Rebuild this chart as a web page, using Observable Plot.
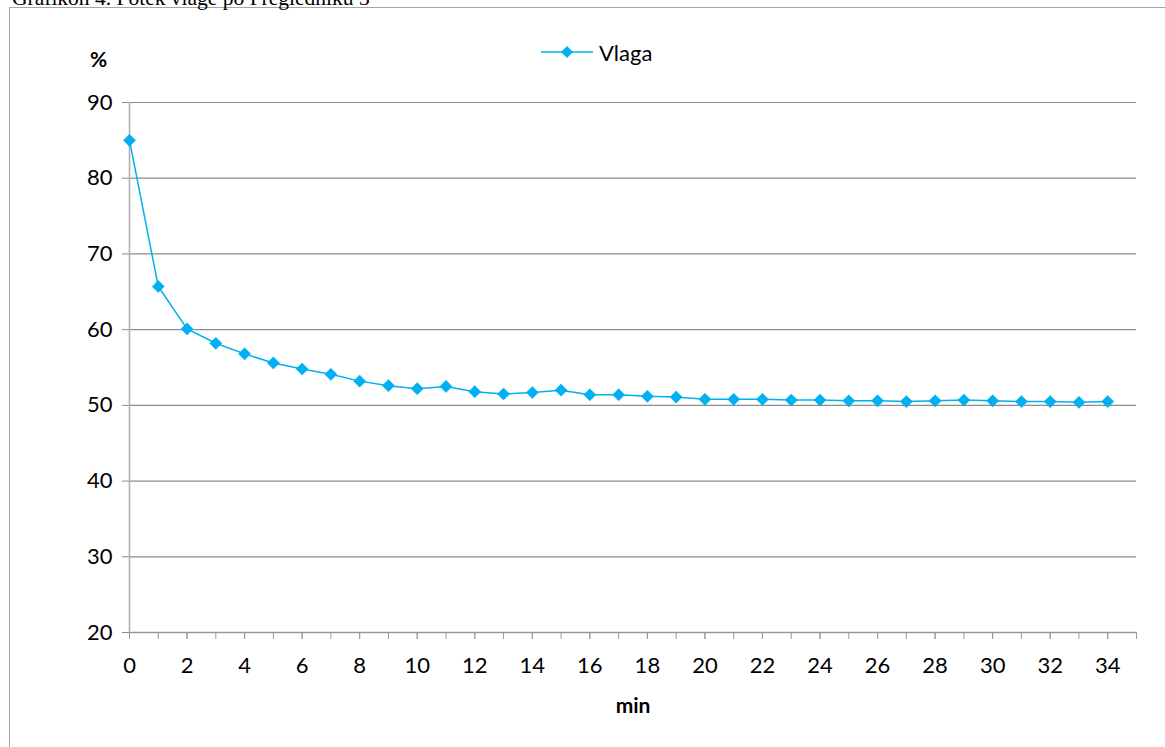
<!DOCTYPE html>
<html>
<head>
<meta charset="utf-8">
<script src="https://cdn.jsdelivr.net/npm/d3@7"></script>
<script src="https://cdn.jsdelivr.net/npm/@observablehq/plot@0.6"></script>
<style>
  html, body { margin: 0; padding: 0; background: #fff; overflow: hidden; }
  #wrap { position: relative; width: 1165px; height: 747px; overflow: hidden; background: #fff; }
  #title { position: absolute; left: 12px; top: -12px; font-family: "Liberation Serif", "DejaVu Serif", serif; font-size: 21.5px; line-height: 20px; color: #000; white-space: nowrap; }
  #border { position: absolute; left: 9px; top: 7px; width: 1300px; height: 900px; border: 1.5px solid #a6a6a6; box-sizing: border-box; }
  #chart { position: absolute; left: 0; top: 0; }
  #legend { position: absolute; left: 540px; top: 39px; height: 26px; display: flex; align-items: center; font-family: Lato, "Open Sans", sans-serif; font-size: 22px; color: #000; }
  #legend svg { margin-right: 5px; }
</style>
</head>
<body>
<div id="wrap">
  <div id="border"></div>
  <div id="title">Grafikon 4. Potek vlage po Pregledniku 3</div>
  <div id="chart"></div>
  <div id="legend"></div>
</div>
<script>
const minutes = d3.range(0, 35);
const vlaga = [85.0, 65.7, 60.1, 58.2, 56.8, 55.6, 54.8, 54.1, 53.2, 52.6,
               52.2, 52.5, 51.8, 51.5, 51.7, 52.0, 51.4, 51.4, 51.2, 51.1,
               50.8, 50.8, 50.8, 50.7, 50.7, 50.6, 50.6, 50.5, 50.6, 50.7,
               50.6, 50.5, 50.5, 50.4, 50.5];
const seriesName = "Vlaga";
const yTicks = [20, 30, 40, 50, 60, 70, 80, 90];
const xTickMarks = d3.range(0, 36);
const xTickLabels = d3.range(0, 35, 2);
const yLabel = "%";
const xLabel = "min";

const data = minutes.map((m, i) => ({min: m, v: vlaga[i]}));
const blue = "#00B0F0";
const font = "Lato, 'Open Sans', sans-serif";

const chart = Plot.plot({
  width: 1165,
  height: 747,
  marginLeft: 129,
  marginRight: 29,
  marginTop: 102,
  marginBottom: 115,
  style: {fontFamily: font, fontSize: "22px", color: "#000", background: "transparent", overflow: "visible"},
  x: {domain: [0, 35], type: "linear"},
  y: {domain: [20, 90]},
  marks: [
    Plot.gridY(yTicks.slice(1), {stroke: "#8c8c8c", strokeOpacity: 1, strokeWidth: 1.2}),
    Plot.axisY(yTicks, {tickSize: 7, tickPadding: 10, stroke: "#8c8c8c", label: null, fill: "#000", fontSize: 22}),
    Plot.axisX(xTickMarks, {tickSize: 7, tickFormat: () => "", stroke: "#9a9a9a", label: null}),
    Plot.axisX(xTickLabels, {tickSize: 7, tickPadding: 18, stroke: "#9a9a9a", label: null, fill: "#000", fontSize: 22}),
    Plot.ruleY([20], {stroke: "#9a9a9a", strokeWidth: 1.5}),
    Plot.ruleX([0], {stroke: "#b0b0b0", strokeWidth: 1.6}),
    Plot.line(data, {x: "min", y: "v", stroke: blue, strokeWidth: 1.5}),
    Plot.dot(data, {x: "min", y: "v", symbol: "diamond2", r: 5.5, fill: blue, stroke: blue, strokeWidth: 0.5}),
    Plot.text([yLabel], {frameAnchor: "top-left", dx: -31, dy: -42, fontWeight: "bold", fontSize: 21, fill: "#000", textAnchor: "middle", lineAnchor: "middle"}),
    Plot.text([xLabel], {frameAnchor: "bottom", dy: 74, fontWeight: "bold", fontSize: 21, fill: "#000", textAnchor: "middle", lineAnchor: "middle"})
  ]
});
document.getElementById("chart").appendChild(chart);

// legend
const leg = document.getElementById("legend");
leg.innerHTML = `<svg width="54" height="14" viewBox="0 0 54 14">
  <line x1="1" y1="7" x2="53" y2="7" stroke="${blue}" stroke-width="1.5"/>
  <path d="M27 1 L33 7 L27 13 L21 7 Z" fill="${blue}"/>
</svg><span></span>`;
leg.querySelector("span").textContent = seriesName;
</script>
</body>
</html>
